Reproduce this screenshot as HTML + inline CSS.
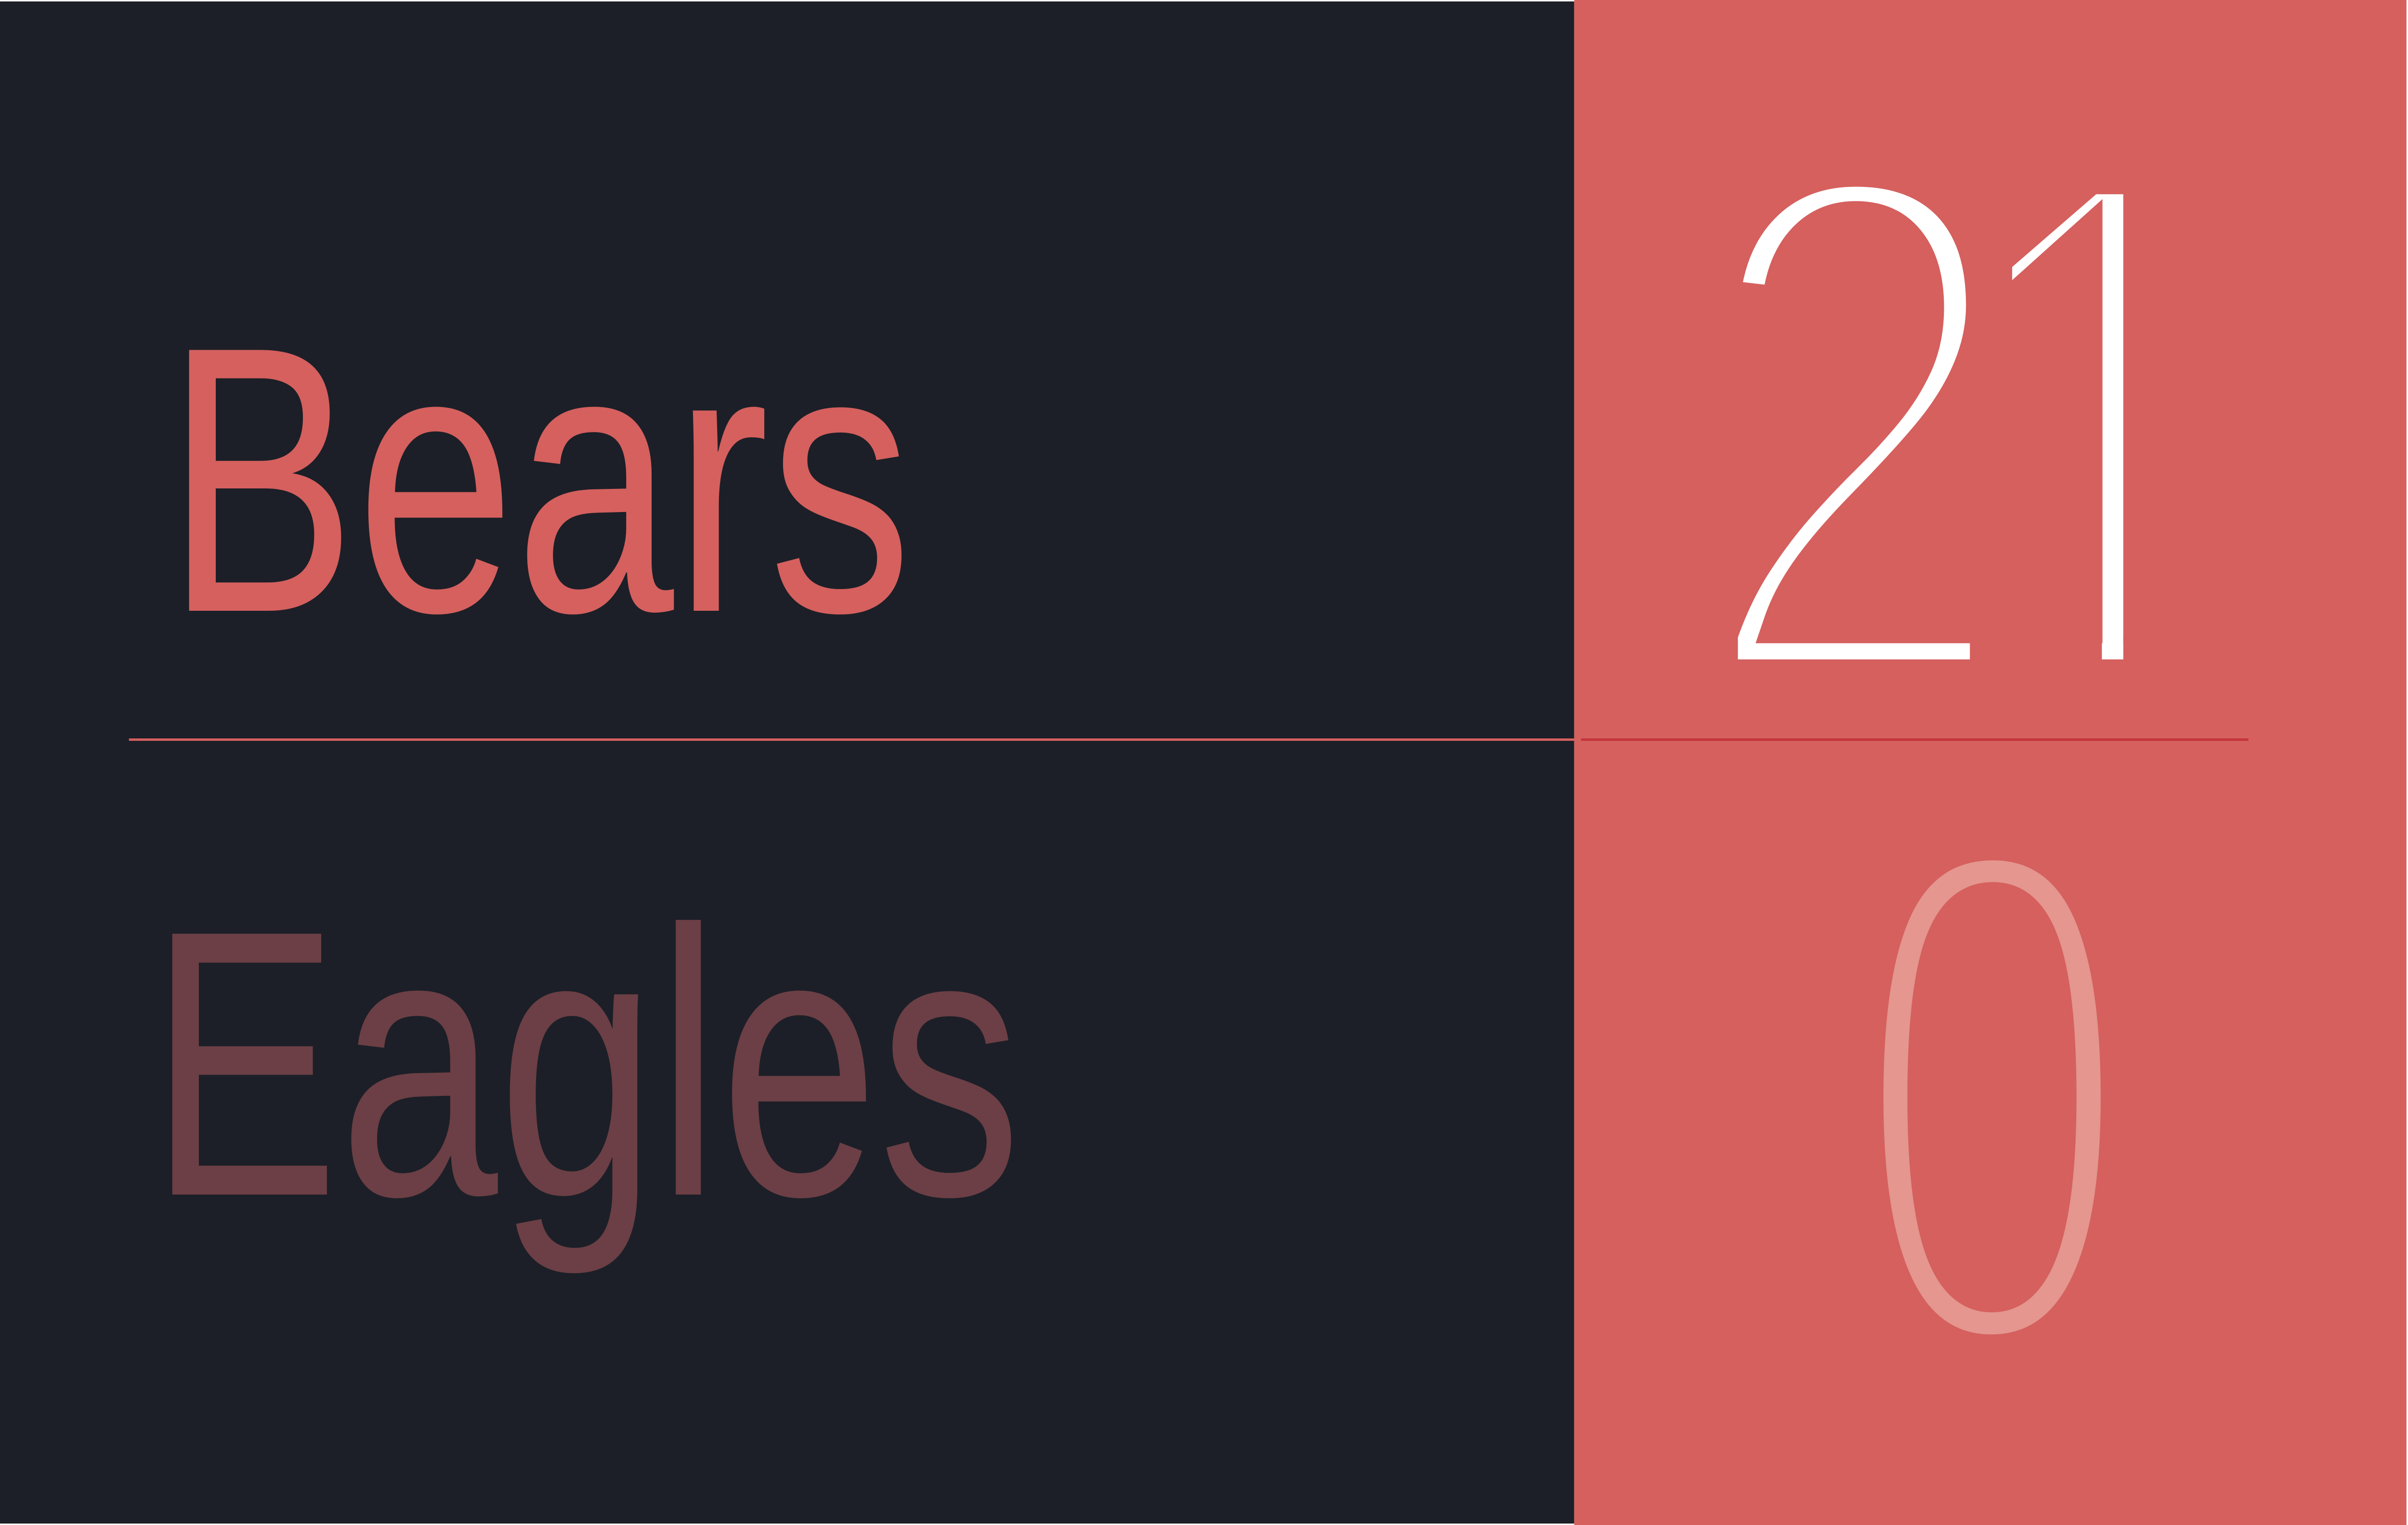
<!DOCTYPE html>
<html>
<head>
<meta charset="utf-8">
<style>
  html,body{margin:0;padding:0;background:#1c1f27;width:100%;height:100%;overflow:hidden;}
  svg{display:block;width:100vw;height:100vh;}
</style>
</head>
<body>
<svg viewBox="0 0 6293 3166" preserveAspectRatio="none" xmlns="http://www.w3.org/2000/svg">
  <rect x="0" y="0" width="6293" height="3166" fill="#ffffff"/>
  <rect x="0" y="3" width="4114" height="3160" fill="#1c1f27"/>
  <rect x="4114" y="0" width="2175" height="3166" fill="#d5605e"/>
  <rect x="337" y="1533" width="3777" height="5" fill="#d5605e"/>
  <rect x="4132" y="1533" width="1744" height="5" fill="#c4343c"/>
  <text x="433" y="1268" font-family="Liberation Sans, sans-serif" font-size="787" fill="#d5605e" textLength="1950" lengthAdjust="spacingAndGlyphs">Bears</text>
  <text x="389" y="2480" font-family="Liberation Sans, sans-serif" font-size="787" fill="#6b3f45" textLength="2280" lengthAdjust="spacingAndGlyphs">Eagles</text>
  <text x="4848" y="1409" text-anchor="middle" font-family="Liberation Sans, sans-serif" font-size="1520" fill="#ffffff" stroke="#d5605e" stroke-width="80" paint-order="fill stroke">2</text>
  <text x="5495" y="1409" text-anchor="middle" font-family="Liberation Sans, sans-serif" font-size="1520" fill="#ffffff" stroke="#d5605e" stroke-width="80" paint-order="fill stroke">1</text>
  <rect x="5200" y="1318" width="293" height="80" fill="#d5605e"/>
  <rect x="5549" y="1318" width="290" height="80" fill="#d5605e"/>
  <text x="5206" y="2786" text-anchor="middle" transform="translate(5206 0) scale(0.88 1) translate(-5206 0)" font-family="Liberation Sans, sans-serif" font-size="1475" fill="#e4968f" stroke="#d5605e" stroke-width="60" paint-order="fill stroke">0</text>
</svg>
</body>
</html>
